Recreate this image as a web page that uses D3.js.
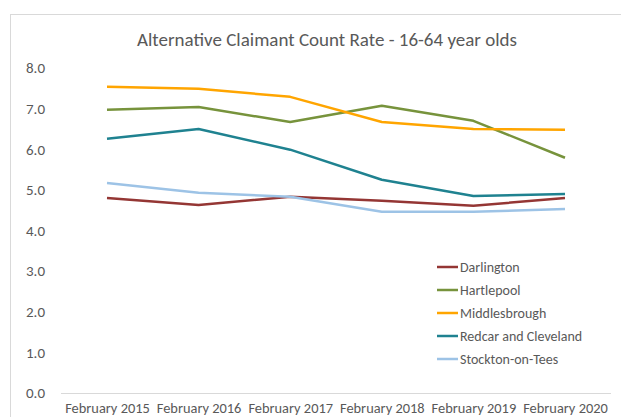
<!DOCTYPE html>
<html><head><meta charset="utf-8">
<script src="https://cdn.jsdelivr.net/npm/d3@7"></script>
<style>body{margin:0;background:#fff}svg{display:block}</style>
</head><body>
<svg id="chart" width="621" height="417"></svg>
<script>
const categories = ["February 2015","February 2016","February 2017","February 2018","February 2019","February 2020"];
const yTicks = [0,1,2,3,4,5,6,7,8];
const darlington = [4.80,4.63,4.83,4.73,4.61,4.80];
const hartlepool = [6.97,7.04,6.67,7.07,6.70,5.79];
const middlesbrough = [7.54,7.49,7.29,6.67,6.50,6.48];
const redcar = [6.26,6.50,5.99,5.25,4.85,4.90];
const stockton = [5.17,4.93,4.83,4.46,4.46,4.53];
const seriesNames = ["Darlington","Hartlepool","Middlesbrough","Redcar and Cleveland","Stockton-on-Tees"];
const seriesValues = [darlington,hartlepool,middlesbrough,redcar,stockton];
const colors = ["#943634","#77933c","#ffa500","#1f8290","#9dc3e6"];

const svg = d3.select("#chart");
const font = "Carlito, Calibri, Lato, sans-serif";
svg.append("rect").attr("x",10.5).attr("y",14.5).attr("width",640).attr("height",440)
  .attr("fill","#fff").attr("stroke","#d9d9d9");

const x = d3.scalePoint().domain(categories).range([107,565]);
const y = d3.scaleLinear().domain([0,8]).range([393,68]);

svg.append("text").attr("x",327).attr("y",46).attr("text-anchor","middle")
  .attr("font-family",font).attr("font-size",19).attr("fill","#595959")
  .text("Alternative Claimant Count Rate - 16-64 year olds");

// y axis labels
const yAxis = svg.append("g").attr("transform","translate(45,0)")
  .call(d3.axisLeft(y).tickValues(yTicks).tickFormat(d3.format(".1f")).tickSize(0).tickPadding(0));
yAxis.select(".domain").remove();
yAxis.selectAll("text").attr("font-family",font).attr("font-size",15).attr("fill","#595959");

// x axis
const xAxis = svg.append("g").attr("transform","translate(0,393)")
  .call(d3.axisBottom(x).tickSize(0).tickPadding(10));
xAxis.select(".domain").attr("d","M61,0.5H611").attr("stroke","#d9d9d9");
xAxis.selectAll("text").attr("font-family",font).attr("font-size",14.4).attr("fill","#595959");

const line = d3.line().x((d,i)=>x(categories[i])).y(d=>y(d));
seriesValues.forEach((vals,k)=>{
  svg.append("path").datum(vals).attr("d",line).attr("fill","none")
    .attr("stroke",colors[k]).attr("stroke-width",2.5).attr("stroke-linejoin","round");
});

const legend = svg.append("g");
seriesNames.forEach((n,k)=>{
  const yy = 267 + k*23;
  legend.append("line").attr("x1",437).attr("x2",458).attr("y1",yy).attr("y2",yy)
    .attr("stroke",colors[k]).attr("stroke-width",2.5);
  legend.append("text").attr("x",460).attr("y",yy+5).attr("font-family",font)
    .attr("font-size",14).attr("fill","#595959").text(n);
});
</script>
</body></html>
